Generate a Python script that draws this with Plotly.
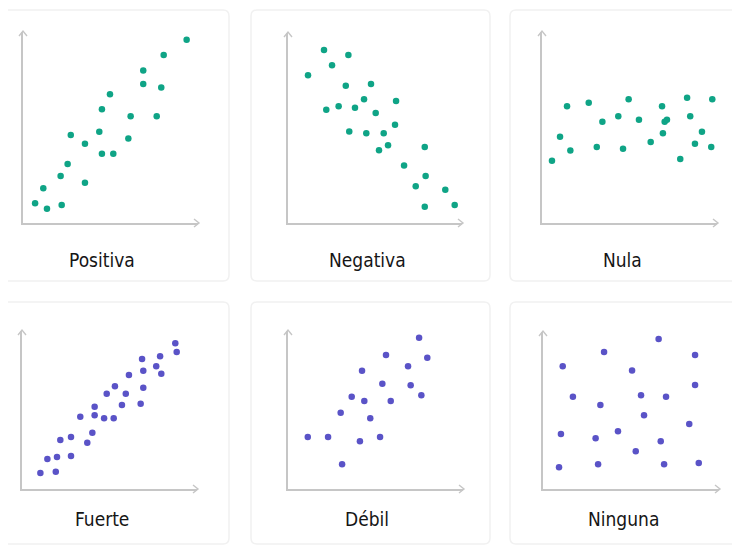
import plotly.graph_objects as go

# The page body has an 8px margin, so the figure is sized to fit the window.
OFF = 8
W, H = 740 - OFF, 547 - OFF

titles = ["Positiva", "Negativa", "Nula", "Fuerte", "Débil", "Ninguna"]

pos_x = [6.9, 11.6, 13.7, 22.1, 21.5, 25.5, 27.3, 35.4, 35.4, 43.6, 45.1, 49.7, 45.1, 51.6, 60.2, 61.5, 68.7, 68.7, 76.4, 79.0, 80.4, 93.5]
pos_y = [10.3, 18.2, 7.5, 9.4, 24.6, 30.9, 46.1, 41.5, 21.1, 47.8, 59.5, 67.4, 36.3, 36.3, 44.3, 55.9, 79.9, 72.8, 55.9, 71.0, 88.0, 96.0]

neg_x = [10.9, 11.5, 20.7, 25.3, 34.7, 33.2, 47.7, 22.0, 29.1, 38.5, 43.7, 50.4, 62.1, 35.2, 45.0, 55.0, 61.5, 57.5, 52.3, 78.6, 66.7, 79.1, 73.4, 78.6, 90.4, 95.8]
neg_y = [101.7, 77.7, 91.1, 83.0, 88.4, 72.3, 73.2, 59.6, 61.4, 60.7, 65.1, 57.9, 64.2, 48.1, 47.2, 47.2, 51.7, 40.9, 38.3, 40.0, 30.2, 24.7, 19.3, 8.6, 17.5, 9.5]

nul_x = [5.7, 10.3, 16.2, 14.3, 26.7, 31.3, 34.5, 43.6, 46.3, 49.5, 55.4, 62.1, 68.6, 69.1, 70.1, 71.4, 79.0, 82.9, 84.7, 87.4, 91.4, 96.7, 97.3]
nul_y = [32.6, 45.2, 37.9, 61.1, 63.0, 39.8, 53.0, 55.9, 38.9, 64.8, 54.1, 42.4, 61.1, 47.0, 53.0, 54.1, 33.5, 65.6, 55.9, 41.5, 47.8, 39.8, 64.8]

fue_x = [10.5, 19.3, 14.5, 20.0, 28.0, 21.9, 28.0, 37.3, 40.2, 33.3, 41.5, 41.5, 46.9, 52.4, 48.4, 53.1, 57.1, 59.3, 61.1, 67.8, 69.3, 69.3, 68.6, 76.7, 79.6, 78.9, 87.6, 88.4]
fue_y = [10.1, 10.9, 19.0, 20.3, 20.9, 31.0, 32.9, 29.3, 35.6, 45.8, 46.6, 52.1, 44.7, 44.7, 60.3, 65.0, 53.2, 60.3, 72.2, 54.0, 64.1, 74.9, 82.3, 77.7, 73.0, 84.0, 92.2, 86.7]

deb_x = [11.3, 22.9, 30.9, 30.1, 36.4, 41.1, 42.3, 43.6, 47.0, 52.6, 53.9, 56.0, 58.7, 68.6, 70.1, 74.9, 76.2, 79.6]
deb_y = [32.9, 32.9, 15.6, 48.3, 58.4, 30.2, 74.9, 55.7, 44.7, 32.9, 66.6, 84.8, 55.7, 77.7, 65.6, 95.8, 59.3, 83.1]

nin_x = [9.1, 10.2, 11.2, 17.0, 31.3, 29.9, 32.6, 34.7, 42.6, 50.6, 52.7, 55.7, 57.4, 65.7, 66.9, 68.8, 69.9, 83.1, 86.4, 86.4, 88.5]
nin_y = [13.8, 35.0, 78.2, 58.8, 15.7, 32.3, 53.5, 87.3, 36.8, 75.4, 24.0, 59.7, 46.9, 95.5, 30.4, 15.7, 58.8, 41.4, 66.2, 85.4, 16.6]

series_x = [pos_x, neg_x, nul_x, fue_x, deb_x, nin_x]
series_y = [pos_y, neg_y, nul_y, fue_y, deb_y, nin_y]
colors = ["#0fa486", "#0fa486", "#0fa486", "#5a53c7", "#5a53c7", "#5a53c7"]

# axis boxes in window pixels: (x0, x1, y_origin, y_top)
boxes = [(23, 198, 223, 32), (288, 462, 223, 33), (542, 717, 223, 32),
         (22, 197, 489, 331), (288, 463, 489, 331), (543, 719, 489, 332)]
label_pos = [(102, 260), (367, 260), (622, 260), (102, 519), (367, 519), (623, 519)]
cards = [(-10, 229, 10, 281), (251, 490, 10, 281), (510, 750, 10, 281),
         (-10, 229, 302, 544), (251, 490, 302, 544), (510, 750, 302, 544)]

px = lambda x: (x - OFF) / W
py = lambda y: 1 - (y - OFF) / H

fig = go.Figure()
layout = dict(width=W, height=H, margin=dict(l=0, r=0, t=0, b=0),
              paper_bgcolor="white", plot_bgcolor="rgba(0,0,0,0)",
              showlegend=False, shapes=[], annotations=[])
axis_col = "#c6c6c6"


def rounded(x0, x1, y0, y1, r=6):
    return (f"M {px(x0 + r)},{py(y0)} L {px(x1 - r)},{py(y0)} "
            f"Q {px(x1)},{py(y0)} {px(x1)},{py(y0 + r)} L {px(x1)},{py(y1 - r)} "
            f"Q {px(x1)},{py(y1)} {px(x1 - r)},{py(y1)} L {px(x0 + r)},{py(y1)} "
            f"Q {px(x0)},{py(y1)} {px(x0)},{py(y1 - r)} L {px(x0)},{py(y0 + r)} "
            f"Q {px(x0)},{py(y0)} {px(x0 + r)},{py(y0)} Z")


for c in cards:
    layout["shapes"].append(dict(type="path", xref="paper", yref="paper",
                                 path=rounded(c[0], c[1], c[2], c[3]),
                                 line=dict(color="#f1f1f1", width=1.5), layer="below"))

for i in range(6):
    n = "" if i == 0 else str(i + 1)
    x0, x1, yo, yt = boxes[i]
    layout["xaxis" + n] = dict(domain=[px(x0), px(x1)], anchor="y" + n, range=[0, 100],
                               showline=True, linecolor=axis_col, linewidth=1.6,
                               showgrid=False, zeroline=False, showticklabels=False,
                               ticks="", fixedrange=True)
    layout["yaxis" + n] = dict(domain=[py(yo), py(yt)], anchor="x" + n, range=[0, 100],
                               showline=True, linecolor=axis_col, linewidth=1.6,
                               showgrid=False, zeroline=False, showticklabels=False,
                               ticks="", fixedrange=True)
    fig.add_trace(go.Scatter(x=series_x[i], y=series_y[i], mode="markers",
                             xaxis="x" + n, yaxis="y" + n, cliponaxis=False,
                             marker=dict(size=6.5, color=colors[i]), hoverinfo="skip"))
    # arrow heads
    layout["shapes"].append(dict(type="path", xref="paper", yref="paper",
                                 path=f"M {px(x1-4)},{py(yo-4)} L {px(x1+1)},{py(yo)} L {px(x1-4)},{py(yo+4)}",
                                 line=dict(color=axis_col, width=1.4)))
    layout["shapes"].append(dict(type="path", xref="paper", yref="paper",
                                 path=f"M {px(x0-4)},{py(yt+4)} L {px(x0)},{py(yt-1)} L {px(x0+4)},{py(yt+4)}",
                                 line=dict(color=axis_col, width=1.4)))
    lx, ly = label_pos[i]
    layout["annotations"].append(dict(text=titles[i], xref="paper", yref="paper",
                                      x=px(lx), y=py(ly), showarrow=False,
                                      xanchor="center", yanchor="middle",
                                      font=dict(family="DejaVu Sans Condensed, DejaVu Sans, sans-serif",
                                                size=19, color="#151515")))

fig.update_layout(**layout)
fig.write_html("out.html", config={"displayModeBar": False})
